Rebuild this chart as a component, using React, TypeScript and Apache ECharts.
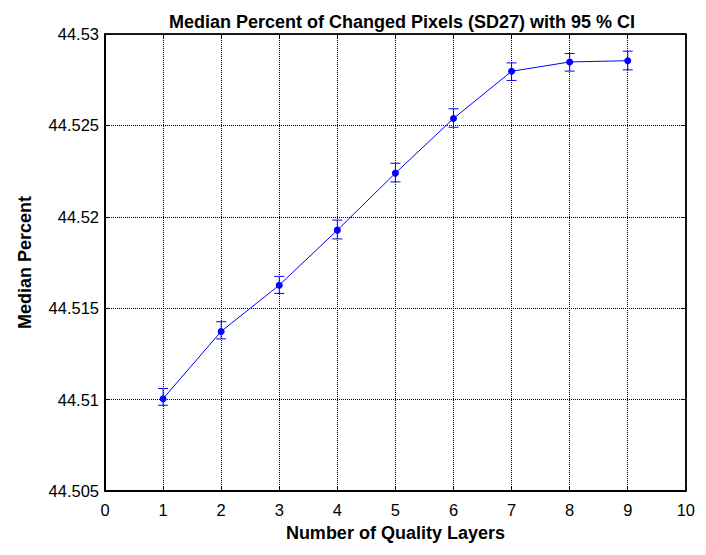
import React, { useEffect, useRef } from "react";
import * as echarts from "echarts";

const layers = [1, 2, 3, 4, 5, 6, 7, 8, 9];
const medians = [44.51005, 44.51373, 44.51626, 44.51927, 44.52239, 44.52538, 44.52796, 44.52847, 44.52854];
const lowerCI = [44.50969, 44.51332, 44.51581, 44.51879, 44.52191, 44.5249, 44.52746, 44.52797, 44.52804];
const upperCI = [44.51061, 44.51426, 44.51674, 44.51982, 44.52293, 44.52591, 44.52842, 44.52893, 44.52906];

const FONT = "'Liberation Sans', Arial, Helvetica, sans-serif";
const BLUE = "#0000ff";

export default function App() {
  const ref = useRef<HTMLDivElement>(null);
  useEffect(() => {
    if (!ref.current) return;
    const chart = echarts.init(ref.current, undefined, { renderer: "svg" });
    const lineData = layers.map((x, i) => [x, medians[i]]);
    const errData = layers.map((x, i) => [x, lowerCI[i], upperCI[i]]);
    const xBase = { type: "value", min: 0, max: 10, interval: 1 };
    const yBase = { type: "value", min: 44.505, max: 44.53, interval: 0.005 };
    const tick = { show: true, inside: true, length: 5, lineStyle: { color: "#000", width: 1 } };
    chart.setOption({
      animation: false,
      backgroundColor: "#ffffff",
      title: {
        text: "Median Percent of Changed Pixels (SD27) with 95 % CI",
        left: 389,
        textAlign: "center",
        top: 0,
        textStyle: { fontFamily: FONT, fontSize: 18, fontWeight: "bold", color: "#000" },
      },
      grid: {
        left: 92,
        right: 4,
        top: 26,
        bottom: 44,
        show: true,
        borderColor: "#000",
        borderWidth: 1,
        backgroundColor: "#fff",
      },
      xAxis: [
        {
          ...xBase,
          position: "bottom",
          name: "Number of Quality Layers",
          nameLocation: "middle",
          nameGap: 33,
          nameTextStyle: { fontFamily: FONT, fontSize: 18, fontWeight: "bold", color: "#000" },
          axisLine: { show: true, onZero: false, lineStyle: { color: "#000", width: 2 } },
          axisTick: tick,
          axisLabel: { fontFamily: FONT, fontSize: 16.5, color: "#000", margin: 10 },
          splitLine: { show: true, lineStyle: { color: "#000", type: [1, 1], width: 1 } },
        },
        {
          ...xBase,
          position: "top",
          axisLine: { show: true, onZero: false, lineStyle: { color: "#000", width: 1.5 } },
          axisTick: tick,
          axisLabel: { show: false },
          splitLine: { show: false },
        },
      ],
      yAxis: [
        {
          ...yBase,
          position: "left",
          name: "Median Percent",
          nameLocation: "middle",
          nameGap: 71,
          nameTextStyle: { fontFamily: FONT, fontSize: 18, fontWeight: "bold", color: "#000" },
          axisLine: { show: true, onZero: false, lineStyle: { color: "#000", width: 2 } },
          axisTick: tick,
          axisLabel: {
            fontFamily: FONT,
            fontSize: 16.5,
            color: "#000",
            margin: 6,
            formatter: (v: number) => String(parseFloat(v.toFixed(3))),
          },
          splitLine: { show: true, lineStyle: { color: "#000", type: [1, 1], width: 1 } },
        },
        {
          ...yBase,
          position: "right",
          axisLine: { show: true, onZero: false, lineStyle: { color: "#000", width: 1.5 } },
          axisTick: tick,
          axisLabel: { show: false },
          splitLine: { show: false },
        },
      ],
      series: [
        {
          type: "custom",
          data: errData,
          z: 3,
          renderItem: (params: any, api: any) => {
            const x = api.value(0);
            const lo = api.coord([x, api.value(1)]);
            const hi = api.coord([x, api.value(2)]);
            const cap = 5;
            const style = { stroke: BLUE, lineWidth: 1 };
            return {
              type: "group",
              children: [
                { type: "line", shape: { x1: lo[0], y1: lo[1], x2: hi[0], y2: hi[1] }, style },
                { type: "line", shape: { x1: lo[0] - cap, y1: lo[1], x2: lo[0] + cap, y2: lo[1] }, style },
                { type: "line", shape: { x1: hi[0] - cap, y1: hi[1], x2: hi[0] + cap, y2: hi[1] }, style },
              ],
            };
          },
        },
        {
          type: "line",
          data: lineData,
          z: 4,
          symbol: "circle",
          symbolSize: 7,
          lineStyle: { color: BLUE, width: 1 },
          itemStyle: { color: BLUE },
        },
      ],
    });
    return () => chart.dispose();
  }, []);
  return <div ref={ref} style={{ width: 690, height: 539 }} />;
}
